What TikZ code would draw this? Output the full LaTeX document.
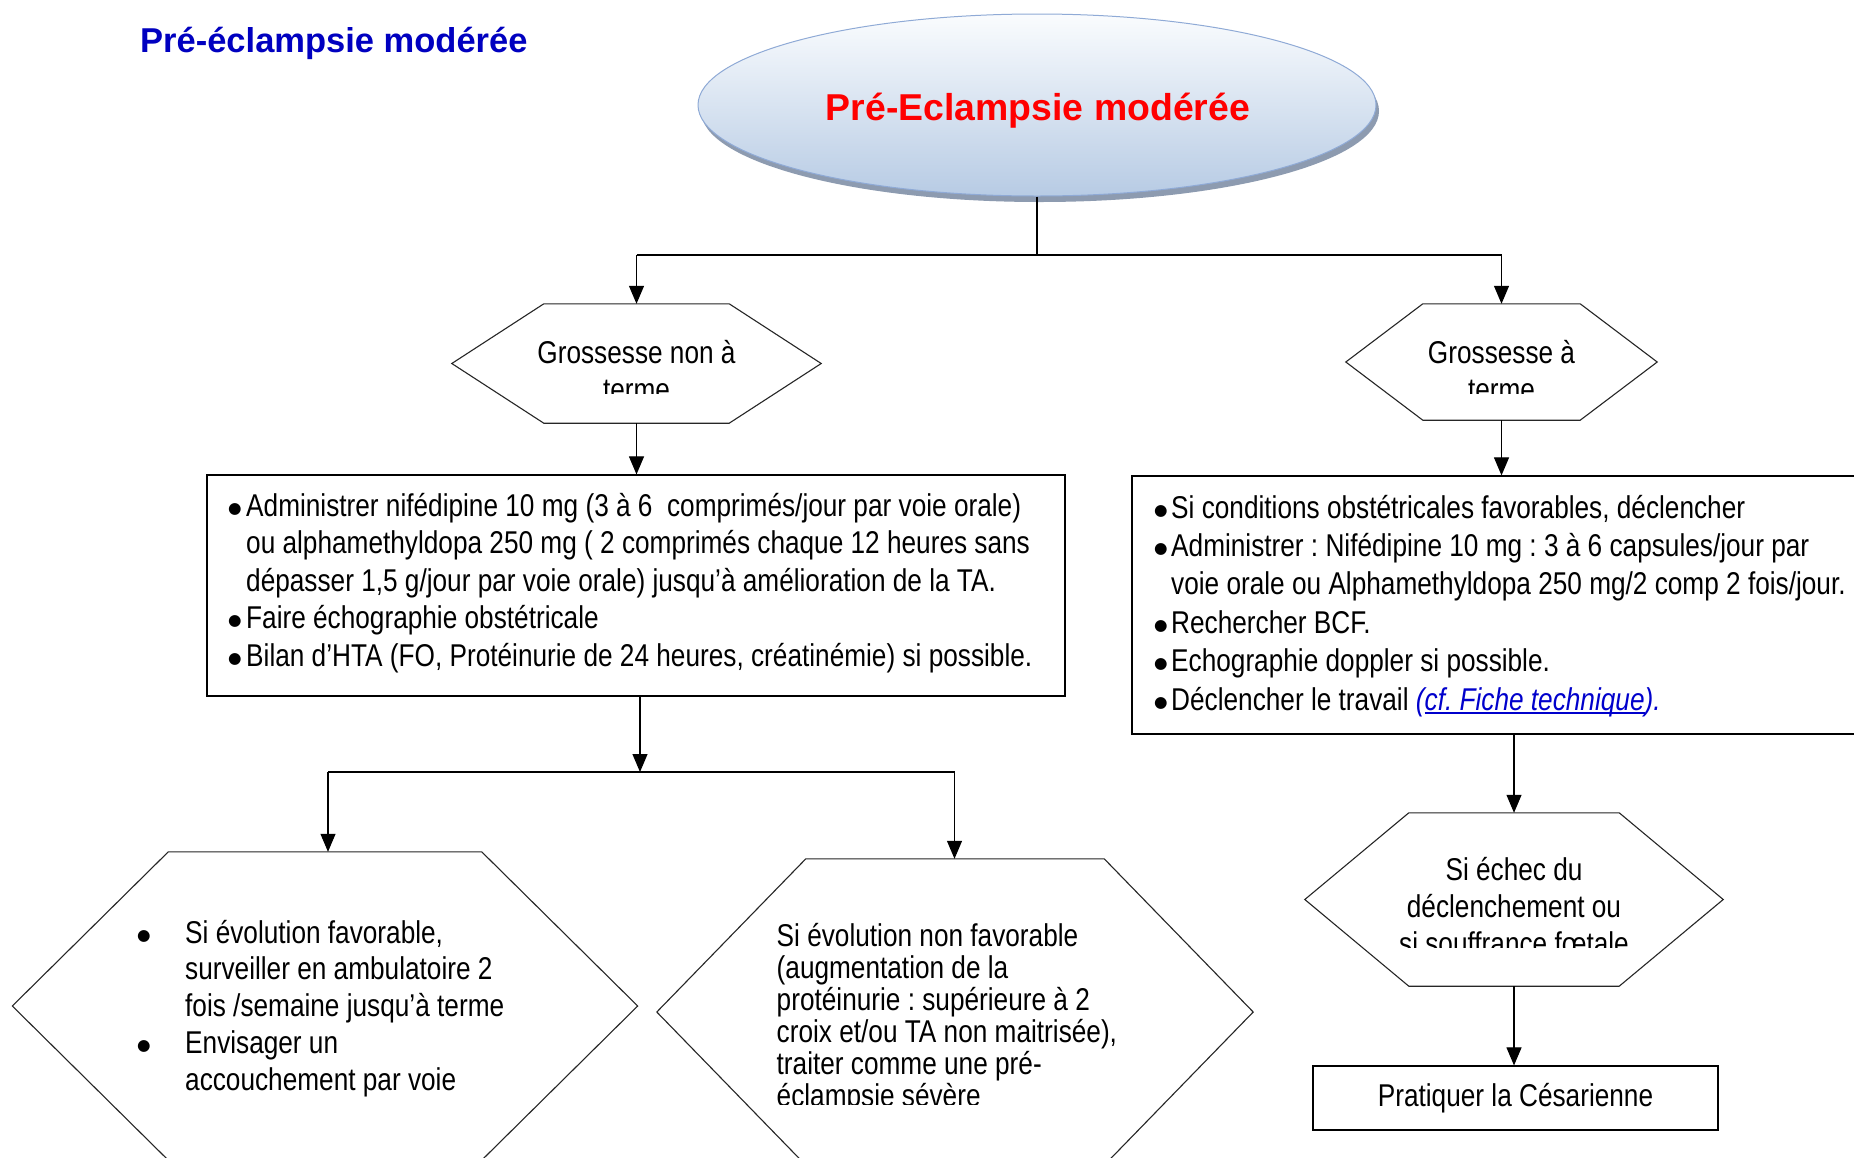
\documentclass[tikz,border=0pt]{standalone}
\usepackage{fontspec}
\setmainfont{Liberation Sans}
\newfontfamily\bodyfont[FakeStretch=0.832]{Liberation Sans}
\newfontfamily\dejavu{DejaVu Sans}
\usetikzlibrary{arrows.meta,calc,shapes.geometric,shadows}
\frenchspacing
\definecolor{titleblue}{HTML}{0000C0}
\definecolor{linkblue}{HTML}{0000CC}
\definecolor{ellbot}{HTML}{B7CBE4}
\definecolor{elltop}{HTML}{FAFCFE}
\definecolor{elledge}{HTML}{8FAAD6}
\definecolor{ellshadow}{HTML}{8D9BB0}
\newcommand\bsz{\fontsize{31.5}{37.5}\selectfont}
\newcommand\mybul[1]{\hbox to #1{\hskip 1.7pt{\dejavu\fontsize{15.5}{15.5}\selectfont\raisebox{3pt}{●}}\hss}}
\newcommand\ind[1]{\hskip #1\relax}
\newcommand\cl[1]{\hbox to 600pt{\hss #1\hss}}
\newcommand\ulink[1]{\setbox0\hbox{#1}\rlap{\rule[-3.5pt]{\wd0}{1.4pt}}\box0}
\tikzset{
  frame/.style={draw=none, rectangle, inner sep=0pt},
  hexline/.style={draw=black!85, line width=1.1pt},
  boxline/.style={draw=black, line width=1.2pt, rectangle, inner sep=0pt},
  conn/.style={draw=black, line width=1.1pt},
  arr/.style={conn, -{Triangle[length=18pt,width=15pt]}},
  txt/.style={inner sep=0pt, font=\bodyfont\bsz},
}
\newcommand\hexdraw[2]{\draw[hexline] (#1.west) -- ($(#1.north west)+(#2,0)$) -- ($(#1.north east)+(-#2,0)$) -- (#1.east) -- ($(#1.south east)+(-#2,0)$) -- ($(#1.south west)+(#2,0)$) -- cycle;}
\begin{document}
\begin{tikzpicture}[x=1pt,y=-1pt]
\useasboundingbox (0,0) rectangle (1854,1157);
\fill[white] (0,0) rectangle (1854,1157);
\clip (0,0) rectangle (1854,1157);

\node[anchor=base west, inner sep=0pt, text=titleblue, font={\fontsize{34.5}{40}\selectfont\bfseries}] (title) at (140,52) {Pré-éclampsie modérée};

\node[ellipse, minimum width=678pt, minimum height=182pt, top color=elltop, bottom color=ellbot, draw=elledge, line width=1pt, drop shadow={shadow xshift=3pt, shadow yshift=-6pt, fill=ellshadow, opacity=1}] (ell) at (1037,105) {};
\node[inner sep=0pt, text=red, font={\fontsize{37.4}{44}\selectfont\bfseries}] (elltext) at (1038,111) {Pré-Eclampsie modérée};

\node[frame, minimum width=369pt, minimum height=119pt] (h1) at (636.5,363.5) {};
\node[frame, minimum width=311pt, minimum height=116pt] (h2) at (1501.5,362) {};
\node[frame, minimum width=418pt, minimum height=173pt] (h3) at (1514,899.5) {};
\node[frame, minimum width=625pt, minimum height=308pt] (h4) at (325,1006) {};
\node[frame, minimum width=596pt, minimum height=306pt] (h5) at (955,1012) {};
\hexdraw{h1}{92}
\hexdraw{h2}{77}
\hexdraw{h3}{104}
\hexdraw{h4}{156}
\hexdraw{h5}{149}

\node[boxline, minimum width=858pt, minimum height=221pt] (lbox) at (636,585.5) {};
\node[boxline, minimum width=764pt, minimum height=258pt] (rbox) at (1514,605) {};
\node[boxline, minimum width=405pt, minimum height=64pt, font=\bodyfont\bsz] (cbox) at (1515.5,1098) {Pratiquer la Césarienne};

\begin{scope}
\clip (452,300) rectangle (821,393);
\node[txt, anchor=base] (t1) at (636.5,363) {\vtop{\baselineskip=37pt \cl{Grossesse non à}\cl{terme}}};
\end{scope}
\begin{scope}
\clip (1346,300) rectangle (1657,393);
\node[txt, anchor=base] (t2) at (1501.5,363) {\vtop{\baselineskip=37pt \cl{Grossesse à}\cl{terme}}};
\end{scope}
\begin{scope}
\clip (1305,810) rectangle (1723,947);
\node[txt, anchor=base] (t3) at (1514,880) {\vtop{\baselineskip=37pt \cl{Si échec du}\cl{déclenchement ou}\cl{si souffrance fœtale}}};
\end{scope}

\node[txt, anchor=base west] (ltext) at (226.3,516) {\vtop{\baselineskip=37.5pt
 \hbox{\mybul{19.7pt}Administrer nifédipine 10 mg (3 à 6\ \ comprimés/jour par voie orale)}
 \hbox{\ind{19.7pt}ou alphamethyldopa 250 mg ( 2 comprimés chaque 12 heures sans}
 \hbox{\ind{19.7pt}dépasser 1,5 g/jour par voie orale) jusqu’à amélioration de la TA.}
 \hbox{\mybul{19.7pt}Faire échographie obstétricale}
 \hbox{\mybul{19.7pt}Bilan d’HTA (FO, Protéinurie de 24 heures, créatinémie) si possible.}}};

\node[txt, anchor=base west] (rtext) at (1152.3,518) {\vtop{\baselineskip=38.4pt
 \hbox{\mybul{18.7pt}Si conditions obstétricales favorables, déclencher}
 \hbox{\mybul{18.7pt}Administrer : Nifédipine 10 mg : 3 à 6 capsules/jour par}
 \hbox{\ind{18.7pt}voie orale ou Alphamethyldopa 250 mg/2 comp 2 fois/jour.}
 \hbox{\mybul{18.7pt}Rechercher BCF.}
 \hbox{\mybul{18.7pt}Echographie doppler si possible.}
 \hbox{\mybul{18.7pt}Déclencher le travail {\color{linkblue}\itshape (\ulink{cf. Fiche technique}).}}}};

\node[txt, anchor=base west] (t4) at (135.3,943) {\vtop{\baselineskip=36.75pt
 \hbox{\mybul{49.7pt}Si évolution favorable,}
 \hbox{\ind{49.7pt}surveiller en ambulatoire 2}
 \hbox{\ind{49.7pt}fois /semaine jusqu’à terme}
 \hbox{\mybul{49.7pt}Envisager un}
 \hbox{\ind{49.7pt}accouchement par voie}}};

\begin{scope}
\clip (657,855) rectangle (1253,1104);
\node[txt, anchor=base west] (t5) at (776.5,946) {\vtop{\baselineskip=32pt
 \hbox{Si évolution non favorable}
 \hbox{(augmentation de la}
 \hbox{protéinurie : supérieure à 2}
 \hbox{croix et/ou TA non maitrisée),}
 \hbox{traiter comme une pré-}
 \hbox{éclampsie sévère}}};
\end{scope}

\coordinate (j1) at (1037,255);
\coordinate (j2) at (640,772);
\coordinate (j4) at (328,772);
\coordinate (j5) at (954.5,772);
\draw[conn] (ell.south) -- (j1);
\draw[conn] (j1 -| h1.north) -- (j1 -| h2.north);
\draw[arr] (j1 -| h1.north) -- (h1.north);
\draw[arr] (j1 -| h2.north) -- (h2.north);
\draw[arr] (h1.south) -- (h1.south |- lbox.north);
\draw[arr] (h2.south) -- (h2.south |- rbox.north);
\draw[arr] (j2 |- lbox.south) -- (j2);
\draw[conn] (j4) -- (j5);
\draw[arr] (j4) -- (j4 |- h4.north);
\draw[arr] (j5) -- (j5 |- h5.north);
\draw[arr] (rbox.south) -- (h3.north);
\draw[arr] (h3.south) -- (h3.south |- cbox.north);
\end{tikzpicture}
\end{document}
